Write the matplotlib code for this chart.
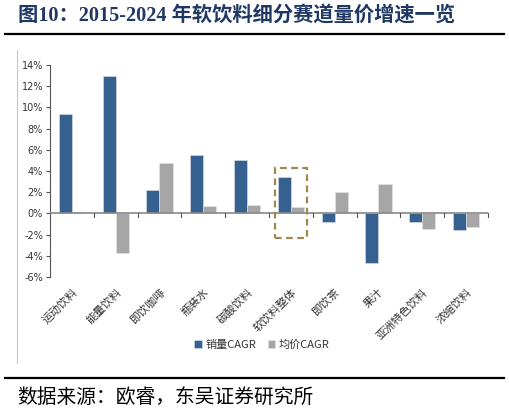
import matplotlib
matplotlib.use("Agg")
import matplotlib.pyplot as plt
import numpy as np
from matplotlib.patches import Rectangle
from matplotlib.lines import Line2D

# data
categories = ["运动饮料", "能量饮料", "即饮咖啡", "瓶装水", "碳酸饮料",
              "软饮料整体", "即饮茶", "果汁", "亚洲特色饮料", "浓缩饮料"]
volume_cagr = [9.4, 13.0, 2.2, 5.5, 5.0, 3.4, -0.8, -4.7, -0.8, -1.6]
price_cagr = [0.1, -3.7, 4.8, 0.7, 0.8, 0.6, 2.0, 2.8, -1.5, -1.3]
yticks = [-6, -4, -2, 0, 2, 4, 6, 8, 10, 12, 14]

cjk = ["Noto Sans CJK SC", "DejaVu Sans"]
serif_cjk = ["Liberation Serif", "Noto Sans CJK SC"]
blue = "#36608F"
grey = "#A6A6A6"
navy = "#1F3864"

fig = plt.figure(figsize=(5.1, 4.13), dpi=100)
W, H = 510, 413

# title + rules
fig.text(18 / W, 1 - 17 / H, "图10：2015-2024 年软饮料细分赛道量价增速一览",
         family=serif_cjk, fontsize=14.6, fontweight="bold", color=navy,
         va="center", ha="left")
fig.add_artist(Line2D([5 / W, 504 / W], [1 - 34 / H] * 2, color="black", lw=1.6))
fig.add_artist(Line2D([5 / W, 504 / W], [1 - 378 / H] * 2, color="black", lw=1.6))
fig.add_artist(Line2D([17 / W] * 2, [1 - 50 / H, 1 - 363 / H], color="#C8C8C8", lw=0.8))
fig.text(17 / W, 1 - 397 / H, "数据来源：欧睿，东吴证券研究所",
         family=cjk, fontsize=14.2, color="black", va="center", ha="left")

ax = fig.add_axes([50 / W, 1 - 277 / H, 438 / W, 212 / H])
x = np.arange(len(categories))
bw = 0.30
ax.bar(x - bw / 2, volume_cagr, bw, color=blue, edgecolor="#DDE3EC", lw=0.4,
       label="销量CAGR", zorder=2)
ax.bar(x + bw / 2, price_cagr, bw, color=grey, edgecolor="#E6E6E6", lw=0.4,
       label="均价CAGR", zorder=2)

ax.set_xlim(-0.5, len(categories) - 0.5)
ax.set_ylim(-6, 14)
ax.set_yticks(yticks)
ax.set_yticklabels([f"{v}%" for v in yticks], fontsize=7, color="#333333")
for s in ["top", "right", "bottom"]:
    ax.spines[s].set_visible(False)
ax.spines["left"].set_color("#555555")
ax.spines["left"].set_linewidth(0.8)
ax.tick_params(axis="y", length=3, width=0.8, color="#555555", pad=2)

# zero line with boundary ticks
ax.axhline(0, color="#888888", lw=1.2, zorder=3)
ax.set_xticks(x)
ax.tick_params(axis="x", length=0, pad=7)
ax.set_xticklabels(categories, rotation=45, ha="right", rotation_mode="anchor",
                   family=cjk, fontsize=8, color="#333333")
for b in np.arange(0.5, len(categories), 1):
    ax.plot([b, b], [0, -0.35], color="#555555", lw=0.8, zorder=3, clip_on=False)

# highlight box around the overall category
ax.add_patch(Rectangle((5 - 0.36, -2.36), 0.72, 6.61, fill=False,
                       edgecolor="#9C8A4A", lw=1.6, ls=(0, (3, 2)), zorder=4))

leg = fig.legend(loc="center", bbox_to_anchor=(262 / W, 1 - 345 / H), ncol=2,
                 frameon=False, prop={"family": cjk, "size": 8},
                 handlelength=0.7, handleheight=0.7, handletextpad=0.3,
                 columnspacing=1.0)
for t in leg.get_texts():
    t.set_color("#333333")

fig.savefig("out.png", dpi=100)
